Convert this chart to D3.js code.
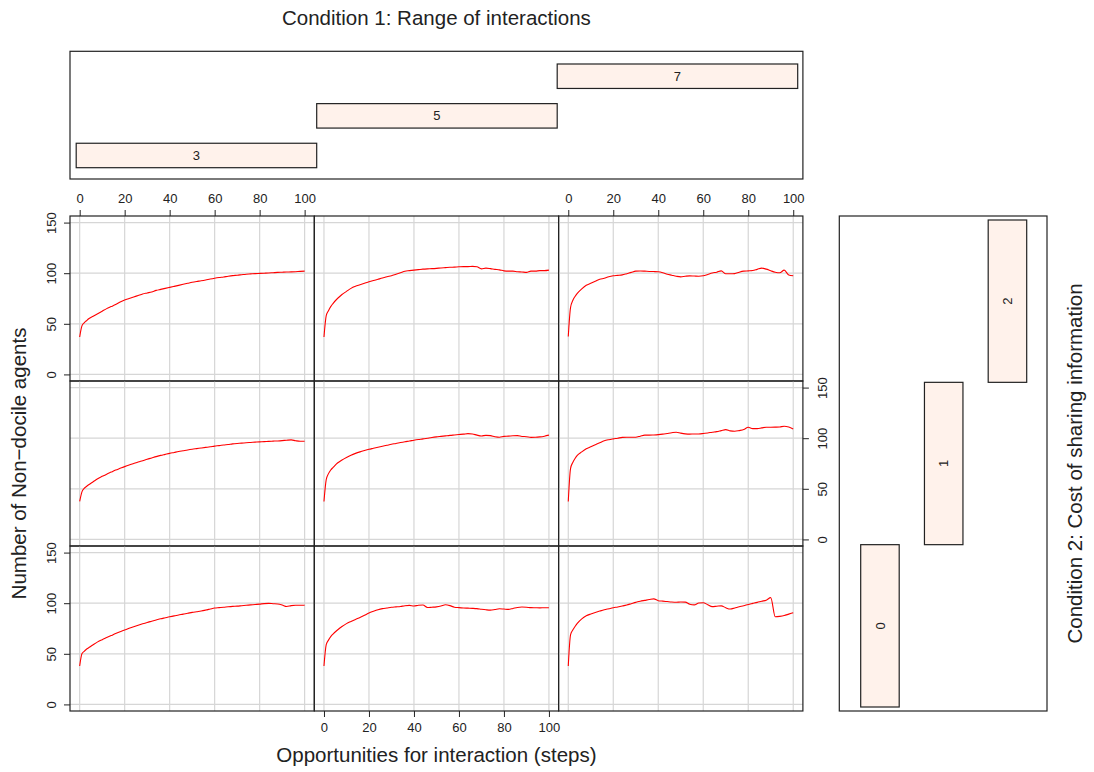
<!DOCTYPE html>
<html><head><meta charset="utf-8">
<script src="https://cdn.jsdelivr.net/npm/d3@7"></script>
<style>
body{margin:0;background:#fff}
svg{display:block}
text{font-family:"Liberation Sans",Arial,sans-serif;}
</style>
</head><body><svg id="c" width="1094" height="772"></svg>
<script>
// ---------------- data ----------------
const steps = [0,1,2,3,4,6,8,10,12,14,16,18,20,22,24,26,28,30,32,34,36,38,40,42,44,46,48,50,52,54,56,58,60,62,64,66,68,70,72,74,76,78,80,82,84,86,88,90,92,94,96,98,100];
const rangeLevels = ["3","5","7"];
const costLevels = ["0","1","2"];
const xTickValues = [0,20,40,60,80,100];
const yTickValues = [0,50,100,150];

const range3_cost2 = [37,48,51,53,55,57.5,60,62.5,65,67,69,71.5,73.5,75,76.5,78,79.5,80.5,81.5,83,84,85,86,87,88,89,90,91,91.8,92.5,93.3,94.2,95,95.7,96.3,97,97.6,98,98.5,99,99.3,99.6,99.8,100,100.2,100.5,100.8,101,101.2,101.3,101.5,101.8,102];
const range5_cost2 = [37,58,63,67,70,75,79,82,85,87,88.5,90,91.5,92.8,94,95.2,96.5,97.5,99,100.5,102,102.5,103,103.5,104,104.3,104.5,104.8,105.2,105.5,105.8,106,106.3,106.5,106.5,106.7,106.3,104.3,105,104.5,103.8,103.3,102.3,102,102,101.5,101.2,100.8,102,102,102.5,102.5,103];
const range7_cost2 = [37.5,66,73,77,80,84.5,88,90,92,94,95,96.5,97.4,97.8,98.3,99.5,100.8,102,102.2,102,101.7,101.6,101.4,100.5,99,98,97,96.4,97,97.4,97.2,97,97.4,98.8,100.2,101,102.3,99.5,99.4,99.6,101,102,102.3,102.6,103.8,105,104,102.4,101,100.4,103,98.2,97.4];

const range3_cost1 = [37.5,47,50.5,52.3,54,57,60,62.3,64.5,66.5,68.5,70.2,71.9,73.5,75,76.5,77.8,79.2,80.5,81.8,83,84,85,85.9,86.8,87.6,88.4,89.1,89.7,90.3,90.9,91.5,92.2,92.7,93.3,93.8,94.4,94.8,95.1,95.5,95.8,96.1,96.4,96.6,96.9,97.1,97.3,97.6,98,98.3,97.5,97,97];
const range5_cost1 = [37.5,59,65,68.6,71,75.5,78.5,81,83.2,85,86.5,87.8,89,90,91,92,93,94,94.8,95.7,96.5,97.2,98,98.7,99.3,100,100.7,101.3,101.8,102.3,102.8,103.2,103.6,104,104.5,104.2,103,102.2,102.8,102.5,101.5,101,101.8,102,102.4,102.5,101.7,101.5,100.8,100.9,101.3,102,103];
const range7_cost1 = [37.5,70,76,80,83,86.5,89.5,91.5,93.5,95.5,97.4,98.5,99.3,100,100.8,100.9,100.9,101,102,103,103,103.2,103.5,104,104.7,105.4,105.9,105,104.3,104,104.2,104.2,104.6,105.2,105.9,106.5,107.5,108.5,107.2,106.8,107.5,108.5,110.8,109.5,109.5,110.2,110.8,110.8,110.9,111.1,111.8,111,109.1];

const range3_cost0 = [38,50,52.5,54.5,56,59,61.8,64,66,68,70,71.8,73.5,75.2,76.8,78.3,79.7,81,82.2,83.4,84.6,85.6,86.6,87.5,88.3,89.2,90,90.9,91.6,92.3,93.2,94.2,95.2,95.6,96,96.5,96.9,97.1,97.5,97.9,98.3,98.7,99.1,99.6,99.8,99.5,99.2,98.2,96.8,97.6,98,98,98];
const range5_cost0 = [38,59,63.5,67,69.5,73.5,77,79.8,82,84,85.8,88,90.3,92,93.5,94.6,95.3,96,96.4,96.8,97.5,97.8,97.2,98,98.2,95.7,96,96.4,97.2,98.4,97.6,96,95.6,95.3,95.1,94.9,94.6,94,93.5,93.2,93.8,94.5,94.2,93.9,94.8,95.8,96.2,96,95.6,95.5,95.4,95.5,95.5];
const range7_cost0 = [38,68.6,73.5,77,80,84.5,87.5,89.3,90.8,92.2,93.5,94.5,95.5,96.3,97.2,98.2,99.5,100.8,102,102.8,103.6,104.3,102.5,102,101.6,101.2,101,101.2,101.1,99,98.3,100.2,100.5,98.5,96.6,97,97.4,95.5,94.2,95.3,96.5,97.5,98.8,99.8,100.8,102,103,105.5,86.6,87,87.8,89.2,90.6];

const panels = [
  {range:"3", cost:"2", values:range3_cost2},
  {range:"5", cost:"2", values:range5_cost2},
  {range:"7", cost:"2", values:range7_cost2},
  {range:"3", cost:"1", values:range3_cost1},
  {range:"5", cost:"1", values:range5_cost1},
  {range:"7", cost:"1", values:range7_cost1},
  {range:"3", cost:"0", values:range3_cost0},
  {range:"5", cost:"0", values:range5_cost0},
  {range:"7", cost:"0", values:range7_cost0}
];

// ---------------- layout ----------------
const svg = d3.select("#c");
const PX0 = 70, PW = 244.3, PY0 = 216, PH = 165;
const x = d3.scaleLinear().domain([-4.3, 104.3]).range([0, PW]);
const y = d3.scaleLinear().domain([-6.5, 156.5]).range([PH, 0]);
const FS_TICK = 13, FS_TITLE = 20.5;
const ink = "#222";

const line = d3.line().x((d,i)=>x(steps[i])).y(d=>y(d)).curve(d3.curveMonotoneX);

svg.append("defs").append("clipPath").attr("id","pclip")
  .append("rect").attr("x",0).attr("y",0).attr("width",PW).attr("height",PH);

function styleAxis(g){
  g.select(".domain").remove();
  g.attr("font-size",FS_TICK).attr("font-family",'"Liberation Sans",Arial,sans-serif')
   .attr("color",ink);
  g.selectAll(".tick line").attr("stroke-width",1);
}

panels.forEach(p=>{
  const col = rangeLevels.indexOf(p.range);
  const row = 2 - costLevels.indexOf(p.cost);
  const g = svg.append("g").attr("transform",`translate(${PX0+col*PW},${PY0+row*PH})`);
  // grid
  g.selectAll(".vg").data(xTickValues).enter().append("line")
    .attr("x1",d=>x(d)).attr("x2",d=>x(d)).attr("y1",0).attr("y2",PH)
    .attr("stroke","#d6d6d6").attr("stroke-width",1.2);
  g.selectAll(".hg").data(yTickValues).enter().append("line")
    .attr("x1",0).attr("x2",PW).attr("y1",d=>y(d)).attr("y2",d=>y(d))
    .attr("stroke","#d6d6d6").attr("stroke-width",1.2);
  // curve
  g.append("path").datum(p.values).attr("d",line).attr("clip-path","url(#pclip)")
    .attr("fill","none").attr("stroke","#ff0000").attr("stroke-width",1.1);
  // axes (alternating, lattice style)
  if(row===0 && col!==1){
    const ag = g.append("g").call(d3.axisTop(x).tickValues(xTickValues).tickSize(6).tickPadding(7).tickSizeOuter(0));
    styleAxis(ag);
  }
  if(row===2 && col===1){
    const ag = g.append("g").attr("transform",`translate(0,${PH})`)
      .call(d3.axisBottom(x).tickValues(xTickValues).tickSize(6).tickPadding(6).tickSizeOuter(0));
    styleAxis(ag);
  }
  if(col===0 && row!==1){
    const ag = g.append("g").call(d3.axisLeft(y).tickValues(yTickValues).tickSize(6).tickSizeOuter(0));
    styleAxis(ag);
    ag.selectAll(".tick text").attr("x",0).attr("dy",null).attr("text-anchor","middle")
      .attr("transform","translate(-14,0) rotate(-90)");
  }
  if(col===2 && row===1){
    const ag = g.append("g").attr("transform",`translate(${PW},0)`)
      .call(d3.axisRight(y).tickValues(yTickValues).tickSize(6).tickSizeOuter(0));
    styleAxis(ag);
    ag.selectAll(".tick text").attr("x",0).attr("dy",null).attr("text-anchor","middle")
      .attr("transform","translate(24,0) rotate(-90)");
  }
  // border
  g.append("rect").attr("x",0).attr("y",0).attr("width",PW).attr("height",PH)
    .attr("fill","none").attr("stroke",ink).attr("stroke-width",1.2);
});

// ---------------- top strip (Condition 1) ----------------
const stripFill = "#fff2eb";
const topBox = {x:PX0, y:51.3, w:3*PW, h:127.7};
svg.append("rect").attr("x",topBox.x).attr("y",topBox.y).attr("width",topBox.w).attr("height",topBox.h)
  .attr("fill","none").attr("stroke",ink).attr("stroke-width",1.2);
const tsx = d3.scaleBand().domain(rangeLevels).range([76.2, 797.7]).paddingInner(0);
const tsy = d3.scaleBand().domain(rangeLevels.slice().reverse()).range([64, 167.7]).paddingInner(0.383).paddingOuter(0);
rangeLevels.forEach(r=>{
  svg.append("rect").attr("x",tsx(r)).attr("y",tsy(r)).attr("width",tsx.bandwidth()).attr("height",tsy.bandwidth())
    .attr("fill",stripFill).attr("stroke",ink).attr("stroke-width",1.2);
  svg.append("text").attr("x",tsx(r)+tsx.bandwidth()/2).attr("y",tsy(r)+tsy.bandwidth()/2)
    .attr("dy","0.35em").attr("text-anchor","middle").attr("font-size",FS_TICK).attr("fill",ink).text(r);
});

// ---------------- right strip (Condition 2) ----------------
const rBox = {x:839.3, y:PY0, w:207.7, h:3*PH};
svg.append("rect").attr("x",rBox.x).attr("y",rBox.y).attr("width",rBox.w).attr("height",rBox.h)
  .attr("fill","none").attr("stroke",ink).attr("stroke-width",1.2);
const rsx = d3.scaleBand().domain(costLevels).range([860.7, 1026.7]).paddingInner(0.396).paddingOuter(0);
const rsy = d3.scaleBand().domain(costLevels).range([707, 220]).paddingInner(0);
costLevels.forEach(c=>{
  svg.append("rect").attr("x",rsx(c)).attr("y",rsy(c)).attr("width",rsx.bandwidth()).attr("height",rsy.bandwidth())
    .attr("fill",stripFill).attr("stroke",ink).attr("stroke-width",1.2);
  const cx = rsx(c)+rsx.bandwidth()/2, cy = rsy(c)+rsy.bandwidth()/2;
  svg.append("text").attr("transform",`translate(${cx},${cy}) rotate(-90)`)
    .attr("dy","0.35em").attr("text-anchor","middle").attr("font-size",FS_TICK).attr("fill",ink).text(c);
});

// ---------------- titles ----------------
const midX = PX0 + 1.5*PW, midY = PY0 + 1.5*PH;
svg.append("text").attr("x",midX).attr("y",24.5).attr("text-anchor","middle")
  .attr("font-size",FS_TITLE).attr("fill",ink).text("Condition 1: Range of interactions");
svg.append("text").attr("x",midX).attr("y",762).attr("text-anchor","middle")
  .attr("font-size",FS_TITLE).attr("fill",ink).text("Opportunities for interaction (steps)");
svg.append("text").attr("transform",`translate(25.5,${midY}) rotate(-90)`).attr("text-anchor","middle")
  .attr("font-size",FS_TITLE).attr("fill",ink).text("Number of Non\u2212docile agents");
svg.append("text").attr("transform",`translate(1082,${midY}) rotate(-90)`).attr("text-anchor","middle")
  .attr("font-size",FS_TITLE).attr("fill",ink).text("Condition 2: Cost of sharing information");
</script>
</body></html>
